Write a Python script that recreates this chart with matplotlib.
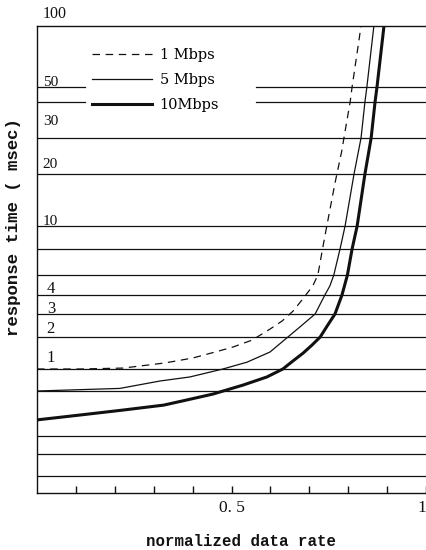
import numpy as np
import matplotlib
matplotlib.use("Agg")
import matplotlib.pyplot as plt

# reference levels drawn as horizontal lines (msec)
grid_levels = [0.2, 0.3, 0.4, 0.5, 0.7, 1, 2, 3, 4, 5, 7, 10, 20, 30, 40, 50, 100]
# the scanned axis is not a clean log scale: height of each level above the bottom (px)
grid_heights = [0, 17, 39, 57, 102, 124, 156, 179, 198, 218, 244, 267, 319, 355, 391, 406, 467]

label_levels = [100, 50, 30, 20, 10, 4, 3, 2, 1]

# response time vs normalized data rate
rate_1 = [0, 0.111, 0.221, 0.329, 0.401, 0.458, 0.504, 0.553, 0.599, 0.630, 0.658,
          0.684, 0.709, 0.722, 0.734, 0.745, 0.766, 0.784, 0.789, 0.805, 0.810, 0.833]
resp_1 = [1.0, 1.0, 1.02, 1.14, 1.27, 1.445, 1.61, 1.87, 2.30, 2.65, 3.13,
          3.79, 4.43, 5.0, 7.0, 10, 17.7, 26.2, 30, 40, 50, 100]

rate_5 = [0, 0.213, 0.316, 0.393, 0.478, 0.540, 0.599, 0.645, 0.676, 0.715, 0.740,
          0.753, 0.763, 0.779, 0.792, 0.815, 0.833, 0.843, 0.848, 0.866]
resp_5 = [0.7, 0.73, 0.823, 0.879, 1.0, 1.16, 1.445, 2.0, 2.39, 3.0, 4.0,
          4.43, 5.0, 7.0, 10, 20, 30, 40, 50, 100]

rate_10 = [0, 0.111, 0.221, 0.326, 0.386, 0.452, 0.530, 0.591, 0.632, 0.658, 0.684,
           0.707, 0.728, 0.746, 0.766, 0.784, 0.798, 0.810, 0.823, 0.843, 0.859,
           0.869, 0.874, 0.892]
resp_10 = [0.564, 0.585, 0.607, 0.630, 0.655, 0.684, 0.771, 0.879, 1.0, 1.19, 1.41,
           1.68, 2.0, 2.43, 3.0, 4.0, 5.0, 7.0, 10, 20, 30,
           40, 50, 100]

x_ticks = [0.1, 0.2, 0.3, 0.4, 0.5, 0.6, 0.7, 0.8, 0.9, 1.0]
x_tick_labels = ['', '', '', '', '0. 5', '', '', '', '', '1']

plt.rcParams['font.family'] = 'Liberation Serif'

log_levels = np.log10(grid_levels)


def forward(v):
    v = np.clip(np.asarray(v, dtype=float), 1e-6, None)
    return np.interp(np.log10(v), log_levels, grid_heights)


def inverse(h):
    return 10 ** np.interp(h, grid_heights, log_levels)


fig = plt.figure(figsize=(4.26, 5.5), dpi=100)
ax = fig.add_axes([37 / 426, 57 / 550, 389 / 426, 467 / 550])
ax.set_yscale('function', functions=(forward, inverse))
ax.set_xlim(0, 1)
ax.set_ylim(0.2, 100)

ink = '#111111'
for level in grid_levels[1:-1]:
    if level in (40, 50):
        # lines are broken where the legend sits
        ax.axhline(level, 0, 0.123, color=ink, lw=0.9)
        ax.axhline(level, 0.563, 1, color=ink, lw=0.9)
    else:
        ax.axhline(level, color=ink, lw=0.9)

ax.plot(rate_1, resp_1, color=ink, lw=0.9, ls=(0, (6, 4.5)), label='1 Mbps')
ax.plot(rate_5, resp_5, color=ink, lw=0.9, label='5 Mbps')
ax.plot(rate_10, resp_10, color=ink, lw=2.2, label='10Mbps')

# value labels written just above their lines
label_offsets = [8, 1, 13, 6, 1, 2, 1, 4, 7]   # px above the line
label_sizes = [11.5, 11, 11, 11, 11, 12, 12, 12, 12]
for lev, off, size in zip(label_levels, label_offsets, label_sizes):
    xpos = 0.015 if lev >= 10 else 0.025
    ax.annotate(str(lev), xy=(xpos, lev), xycoords=('axes fraction', 'data'),
                xytext=(0, off * 0.72), textcoords='offset points',
                ha='left', va='baseline', fontsize=size, color=ink,
                annotation_clip=False)

ax.legend(loc='center left', bbox_to_anchor=(0.141, 0.884), frameon=False,
          handlelength=4.1, handletextpad=0.55, labelspacing=0.75,
          borderpad=0, borderaxespad=0,
          prop={'family': 'DejaVu Serif', 'size': 10.5})

ax.set_yticks([])
ax.set_xticks(x_ticks)
ax.set_xticklabels(x_tick_labels)
ax.get_xticklabels()[-1].set_ha('right')
ax.tick_params(axis='x', direction='in', length=5, width=1, pad=5,
               labelsize=12.5, colors=ink)
ax.spines['right'].set_visible(False)
for side in ('top', 'left', 'bottom'):
    ax.spines[side].set_linewidth(1.0)
    ax.spines[side].set_color(ink)

ax.set_xlabel('normalized data rate', family='Liberation Mono', weight='bold',
              fontsize=11.3, color=ink)
ax.xaxis.set_label_coords(0.524, -0.088)
ax.set_ylabel('response time ( msec)', family='Liberation Mono', weight='bold',
              fontsize=12.5, color=ink)
ax.yaxis.set_label_coords(-0.041, 0.57)

fig.savefig('out.png', dpi=100)
